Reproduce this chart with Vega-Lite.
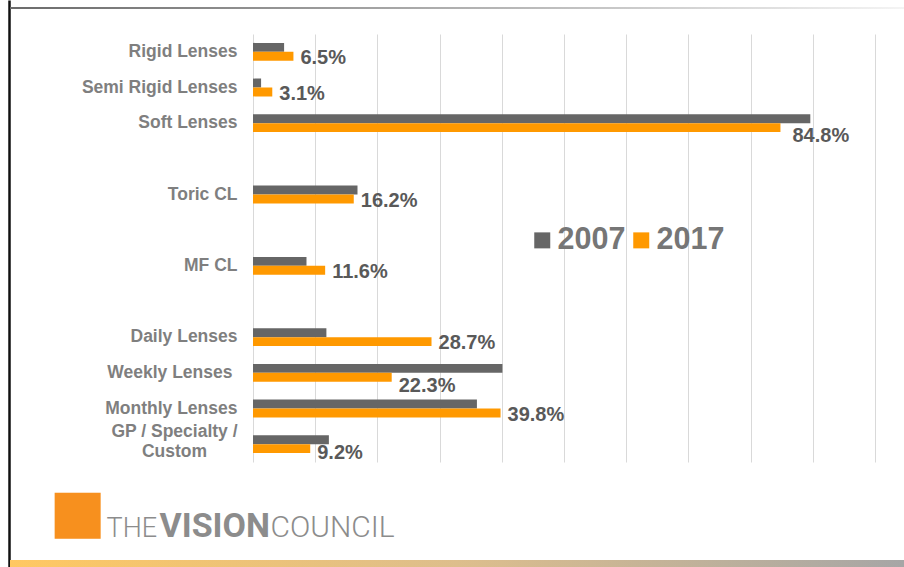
{
  "$schema": "https://vega.github.io/schema/vega-lite/v6.json",
  "width": 622,
  "height": 428,
  "autosize": {"type": "none"},
  "padding": {"left": 253, "top": 34, "right": 29, "bottom": 105},
  "background": "white",
  "config": {"view": {"stroke": null}, "font": "Liberation Sans"},
  "data": {
    "values": [
      {"category": "Rigid Lenses", "year": "2007", "value": 0.050},
      {"category": "Rigid Lenses", "year": "2017", "value": 0.065},
      {"category": "Semi Rigid Lenses", "year": "2007", "value": 0.013},
      {"category": "Semi Rigid Lenses", "year": "2017", "value": 0.031},
      {"category": "Soft Lenses", "year": "2007", "value": 0.896},
      {"category": "Soft Lenses", "year": "2017", "value": 0.848},
      {"category": "Toric CL", "year": "2007", "value": 0.168},
      {"category": "Toric CL", "year": "2017", "value": 0.162},
      {"category": "MF CL", "year": "2007", "value": 0.086},
      {"category": "MF CL", "year": "2017", "value": 0.116},
      {"category": "Daily Lenses", "year": "2007", "value": 0.118},
      {"category": "Daily Lenses", "year": "2017", "value": 0.287},
      {"category": "Weekly Lenses", "year": "2007", "value": 0.401},
      {"category": "Weekly Lenses", "year": "2017", "value": 0.223},
      {"category": "Monthly Lenses", "year": "2007", "value": 0.360},
      {"category": "Monthly Lenses", "year": "2017", "value": 0.398},
      {"category": "GP / Specialty / Custom", "year": "2007", "value": 0.122},
      {"category": "GP / Specialty / Custom", "year": "2017", "value": 0.092}
    ]
  },
  "layer": [
    {
      "mark": {"type": "bar", "strokeWidth": 0},
      "encoding": {
        "y": {
          "field": "category",
          "type": "nominal",
          "sort": null,
          "scale": {
            "domain": ["Rigid Lenses", "Semi Rigid Lenses", "Soft Lenses", " ", "Toric CL", "  ", "MF CL", "   ", "Daily Lenses", "Weekly Lenses", "Monthly Lenses", "GP / Specialty / Custom"],
            "paddingInner": 0.5,
            "paddingOuter": 0.25
          },
          "axis": {
            "title": null,
            "domain": false,
            "ticks": false,
            "grid": false,
            "labelFont": "Liberation Sans",
            "labelFontSize": 17.5,
            "labelFontWeight": "bold",
            "labelColor": "#7f7f7f",
            "labelLimit": 300,
            "labelLineHeight": 20,
            "labelBaseline": "middle",
            "labelExpr": "datum.value == 'GP / Specialty / Custom' ? ['GP / Specialty /', 'Custom'] : datum.value",
            "labelAlign": {"condition": {"test": "datum.value == 'GP / Specialty / Custom'", "value": "center"}, "value": "right"},
            "labelPadding": {"condition": [{"test": "datum.value == 'GP / Specialty / Custom'", "value": 79}, {"test": "datum.value == 'Weekly Lenses'", "value": 21}], "value": 16},
            "labelOffset": {"condition": {"test": "datum.value == 'GP / Specialty / Custom'", "value": -12}, "value": 0}
          }
        },
        "yOffset": {"field": "year", "type": "nominal", "sort": ["2007", "2017"]},
        "x": {
          "field": "value",
          "type": "quantitative",
          "scale": {"domain": [-0.392283, 1], "range": [-244, 622], "zero": false, "nice": false},
          "axis": {
            "title": null,
            "orient": "bottom",
            "offset": 105,
            "values": [-0.392283, -0.283, -0.2363, -0.1511, 0, 0.0273, 0.1, 0.2, 0.3, 0.4, 0.5, 0.6, 0.7, 0.8, 0.9, 1],
            "domain": false,
            "grid": true,
            "gridColor": "#d9d9d9",
            "gridWidth": 1,
            "gridOpacity": {"condition": {"test": "datum.value < 0 || datum.value == 0.0273", "value": 0}, "value": 1},
            "ticks": true,
            "tickSize": -567,
            "tickWidth": 2.5,
            "tickColor": "#111111",
            "tickOpacity": {"condition": {"test": "datum.value < -0.39", "value": 1}, "value": 0},
            "labelExpr": "datum.value == -0.283 ? '■' : datum.value == -0.2363 ? 'THE' : datum.value == -0.1511 ? 'VISION' : datum.value == 0.0273 ? 'COUNCIL' : ''",
            "labelAlign": {"condition": {"test": "datum.value == -0.283", "value": "center"}, "value": "left"},
            "labelBaseline": "alphabetic",
            "labelPadding": {"condition": {"test": "datum.value == -0.283", "value": 543}, "value": 536},
            "labelFont": {"condition": {"test": "datum.value == -0.283", "value": "DejaVu Sans"}, "value": "Roboto"},
            "labelFontSize": {"condition": [{"test": "datum.value == -0.283", "value": 95}, {"test": "datum.value == -0.2363", "value": 27}, {"test": "datum.value == -0.1511", "value": 34}], "value": 30},
            "labelFontWeight": {"condition": {"test": "datum.value == -0.1511", "value": "bold"}, "value": 300},
            "labelColor": {"condition": {"test": "datum.value == -0.283", "value": "#F7901E"}, "value": "#8c8c8c"},
            "labelOverlap": false,
            "labelBound": false,
            "labelFlush": false,
            "labelLimit": 500
          }
        },
        "color": {
          "field": "year",
          "type": "nominal",
          "scale": {"domain": ["2007", "2017"], "range": ["#666666", "#FF9900"]},
          "legend": {
            "title": null,
            "orient": "none",
            "legendX": 274,
            "legendY": 191,
            "direction": "horizontal",
            "symbolType": "square",
            "symbolSize": 256,
            "symbolStrokeWidth": 0,
            "labelFont": "Liberation Sans",
            "labelFontSize": 30.5,
            "labelFontWeight": "bold",
            "labelColor": "#767676",
            "labelOffset": 0,
            "columnPadding": -1
          }
        },
        "stroke": {
          "field": "value",
          "type": "quantitative",
          "scale": {"domain": [0, 1], "range": ["#6b6b6b", "#f4f4f4"], "interpolate": "rgb"},
          "legend": {
            "title": null,
            "orient": "none",
            "legendX": -243,
            "legendY": -27,
            "direction": "horizontal",
            "gradientLength": 894,
            "gradientThickness": 2,
            "gradientStrokeWidth": 0,
            "labelExpr": "''",
            "labelOpacity": 0,
            "padding": 0
          }
        }
      }
    },
    {
      "transform": [{"filter": "datum.year == '2017'"}],
      "mark": {
        "type": "text",
        "align": "left",
        "baseline": "middle",
        "dx": {"expr": "datum.category == 'Soft Lenses' ? 12 : 7"},
        "dy": {"expr": "datum.category == 'Soft Lenses' || datum.category == 'Weekly Lenses' ? 13 : datum.category == 'GP / Specialty / Custom' ? 9 : 6"},
        "font": "Liberation Sans",
        "fontSize": 20,
        "fontWeight": "bold",
        "fill": "#595959",
        "strokeWidth": 0
      },
      "encoding": {
        "y": {"field": "category", "type": "nominal"},
        "x": {"field": "value", "type": "quantitative"},
        "text": {"field": "value", "type": "quantitative", "format": ".1%"},
        "stroke": {
          "field": "value",
          "type": "quantitative",
          "scale": {"domain": [0, 0.5, 1], "range": ["#FFC862", "#DDBE8C", "#A6A6A6"], "interpolate": "rgb"},
          "legend": {
            "title": null,
            "orient": "none",
            "legendX": -243,
            "legendY": 526,
            "direction": "horizontal",
            "gradientLength": 894,
            "gradientThickness": 7,
            "gradientStrokeWidth": 0,
            "labelExpr": "''",
            "labelOpacity": 0,
            "padding": 0
          }
        }
      }
    }
  ],
  "resolve": {"scale": {"stroke": "independent"}, "legend": {"stroke": "independent"}}
}
